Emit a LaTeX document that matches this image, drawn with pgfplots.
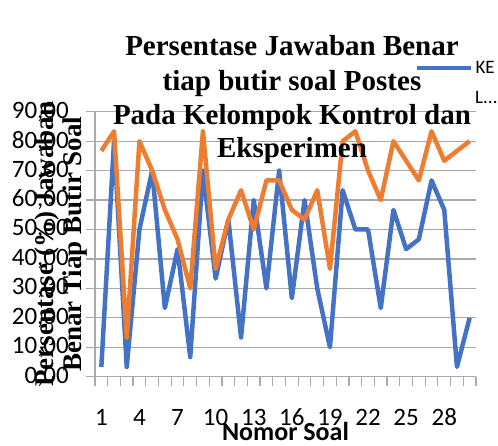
\documentclass[border=0pt]{standalone}
\usepackage{pgfplots}
\pgfplotsset{compat=1.18}
\usepackage{fontspec}
\setmainfont{Liberation Serif}
\newfontfamily\carlito{Carlito}
\definecolor{xblue}{RGB}{68,114,196}
\definecolor{xorange}{RGB}{237,125,49}
\definecolor{xgrid}{RGB}{170,170,170}
\begin{document}
\begin{tikzpicture}
\path[use as bounding box] (-95pt,-68.3pt) rectangle (403pt,376.7pt);
\begin{axis}[
  at={(0pt,0pt)}, anchor=south west,
  scale only axis, width=381pt, height=265pt,
  xmin=0.5, xmax=30.5, ymin=0, ymax=90,
  axis x line*=bottom, axis y line*=left,
  axis line style={xgrid, line width=1.2pt, -},
  xtick={1,4,7,10,13,16,19,22,25,28},
  xticklabels={1,4,7,10,13,16,19,22,25,28},
  minor xtick={0.5,1.5,...,30.5},
  ytick={0,10,...,90},
  yticklabels={{0,00},{10,00},{20,00},{30,00},{40,00},{50,00},{60,00},{70,00},{80,00},{90,00}},
  major x tick style={draw=none},
  minor x tick style={xgrid, line width=1.2pt},
  y tick style={xgrid, line width=1.2pt},
  tick align=outside,
  major tick length=9pt, minor tick length=9pt,
  ymajorgrids, grid style={xgrid, line width=1.2pt},
  ticklabel style={font=\carlito\fontsize{25}{25}\selectfont, inner sep=0pt},
  yticklabel style={anchor=east, xshift=-17pt},
  xticklabel style={anchor=base, yshift=-40pt},
  xlabel={\carlito\bfseries Nomor Soal},
  xlabel style={at={(axis description cs:0.5,0)}, anchor=base, inner sep=0pt, yshift=-63.3pt, font=\fontsize{26}{26}\selectfont},
  legend style={draw=none, fill=none, at={(axis description cs:0.84,1.165)}, anchor=west, inner sep=0pt, outer sep=0pt, font=\carlito\fontsize{19}{19}\selectfont},
  legend image code/.code={\draw[#1] (0pt,0pt) -- (54pt,0pt);},
]
\addplot[xblue, line width=4.5pt, line join=round] coordinates {
(1,3.33) (2,80) (3,3.33) (4,50) (5,70) (6,23.33) (7,43.33) (8,6.67) (9,70) (10,33.33)
(11,53.33) (12,13.33) (13,60) (14,30) (15,70) (16,26.67) (17,60) (18,30) (19,10) (20,63.33)
(21,50) (22,50) (23,23.33) (24,56.67) (25,43.33) (26,46.67) (27,66.67) (28,56.67) (29,3.33) (30,20)
};
\addlegendentry{KE}
\addplot[xorange, line width=4.5pt, line join=round, forget plot] coordinates {
(1,76.67) (2,83.33) (3,13.33) (4,80) (5,70) (6,56.67) (7,46.67) (8,30) (9,83.33) (10,36.67)
(11,53.33) (12,63.33) (13,50) (14,66.67) (15,66.67) (16,56.67) (17,53.33) (18,63.33) (19,36.67) (20,80)
(21,83.33) (22,70) (23,60) (24,80) (25,73.33) (26,66.67) (27,83.33) (28,73.33) (29,76.67) (30,80)
};
\end{axis}
\node[anchor=west, inner sep=0pt, font=\carlito\fontsize{19}{19}\selectfont] at (380pt,279.7pt) {L...};
\begin{scope}[font=\bfseries\fontsize{29}{29}\selectfont]
\node[anchor=base, inner sep=0pt] at (197pt,320.7pt) {Persentase Jawaban Benar};
\node[anchor=base, inner sep=0pt] at (197pt,285.7pt) {tiap butir soal Postes};
\node[anchor=base, inner sep=0pt] at (197pt,252.7pt) {Pada Kelompok Kontrol dan};
\node[anchor=base, inner sep=0pt] at (197pt,219.7pt) {Eksperimen};
\end{scope}
\begin{scope}[font=\bfseries\fontsize{27}{27}\selectfont]
\node[anchor=base, inner sep=0pt, rotate=90] at (-41pt,132.5pt) {Persentase (\%) Jawaban};
\node[anchor=base, inner sep=0pt, rotate=90] at (-14pt,132.5pt) {Benar Tiap Butir Soal};
\end{scope}
\end{tikzpicture}
\end{document}
